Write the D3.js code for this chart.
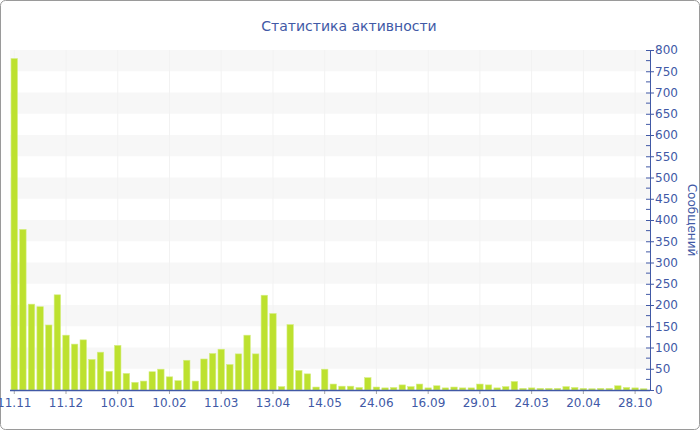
<html>
<head>
<meta charset="utf-8">
<style>
    body { margin: 0; background: #ffffff; }
    svg text { font-family: "DejaVu Sans", Verdana, sans-serif; }
</style>
</head>
<body>
<svg id="container" width="700" height="430"></svg>
<script src="https://cdn.jsdelivr.net/npm/d3@7"></script>
<script>
    // messages per period
    let values = [780, 378, 202, 196, 153, 224, 129, 108, 118, 72, 89, 44,
        105, 39, 18, 21, 43, 49, 31, 22, 70, 21, 73, 86,
        96, 60, 85, 129, 85, 223, 180, 8, 154, 46, 38, 7,
        49, 14, 9, 9, 6, 29, 7, 5, 6, 12, 8, 14,
        5, 10, 5, 7, 5, 5, 14, 12, 5, 8, 20, 4,
        5, 4, 4, 4, 8, 6, 4, 3, 4, 4, 10, 6,
        5, 3]
    let tickLabels = ["11.11", "11.12", "10.01", "10.02", "11.03", "13.04", "14.05",
        "24.06", "16.09", "29.01", "24.03", "20.04", "28.10"]
    let labelStep = 6
    let yMax = 800

    let blue = "#4159a6"
    let svg = d3.select("#container")

    let plotLeft = 10, plotRight = 650, plotTop = 50, plotBottom = 390

    let x = d3.scaleBand()
        .domain(d3.range(values.length))
        .range([plotLeft, plotRight - 2])
        .paddingInner(0.25)
        .paddingOuter(0.12)

    let y = d3.scaleLinear()
        .domain([0, yMax])
        .range([plotBottom, plotTop])

    // frame
    svg.append("rect")
        .attr("x", 0.5).attr("y", 0.5)
        .attr("width", 699).attr("height", 429)
        .attr("rx", 5)
        .attr("fill", "#ffffff")
        .attr("stroke", "#9a9a9a")

    // alternating bands
    let bands = d3.range(50, yMax, 100)
    svg.append("g").selectAll("rect")
        .data(bands)
        .enter().append("rect")
        .attr("x", plotLeft)
        .attr("width", plotRight - plotLeft)
        .attr("y", d => y(d + 50))
        .attr("height", d => y(d) - y(d + 50))
        .attr("fill", "#f7f7f7")

    // faint vertical grid
    let tickIdx = tickLabels.map((d, i) => i * labelStep)
    svg.append("g").selectAll("line")
        .data(tickIdx)
        .enter().append("line")
        .attr("x1", d => x(d) + x.bandwidth() / 2)
        .attr("x2", d => x(d) + x.bandwidth() / 2)
        .attr("y1", plotTop)
        .attr("y2", plotBottom)
        .attr("stroke", "#f2f2f2")

    // bars
    svg.append("g").selectAll("rect")
        .data(values)
        .enter().append("rect")
        .attr("x", (d, i) => x(i))
        .attr("width", x.bandwidth())
        .attr("y", d => y(d))
        .attr("height", d => plotBottom - y(d))
        .attr("fill", "#bde12f")
        .attr("stroke", "#d6ee86")
        .attr("stroke-width", 0.6)

    // x axis
    let xAxis = d3.axisBottom(x)
        .tickValues(tickIdx)
        .tickFormat((d, i) => tickLabels[i])
        .tickSize(4)
        .tickSizeOuter(0)
    let gx = svg.append("g")
        .attr("transform", "translate(0," + plotBottom + ")")
        .call(xAxis)
    gx.select(".domain").remove()
    gx.selectAll(".tick line").attr("stroke", "#a8a8a8")
    gx.selectAll(".tick text")
        .attr("fill", blue)
        .attr("font-size", 12)
        .attr("dy", "0.85em")
    svg.append("line")
        .attr("x1", plotLeft).attr("x2", plotRight)
        .attr("y1", plotBottom + 0.5).attr("y2", plotBottom + 0.5)
        .attr("stroke", blue)
        .attr("stroke-width", 1.5)

    // y axis on the right
    let yAxis = d3.axisRight(y)
        .tickValues(d3.range(0, yMax + 1, 50))
        .tickSize(4)
        .tickSizeOuter(0)
    let gy = svg.append("g")
        .attr("transform", "translate(" + plotRight + ",0)")
        .call(yAxis)
    gy.select(".domain").attr("stroke", blue)
    gy.selectAll(".tick line").attr("stroke", blue).attr("x1", -4)
    gy.selectAll(".tick text")
        .attr("fill", blue)
        .attr("font-size", 12)
        .attr("x", 5)

    // minor ticks
    svg.append("g").selectAll("line")
        .data(d3.range(25, yMax, 50))
        .enter().append("line")
        .attr("x1", plotRight - 4).attr("x2", plotRight)
        .attr("y1", d => y(d)).attr("y2", d => y(d))
        .attr("stroke", blue)

    // titles
    svg.append("text")
        .attr("x", 349).attr("y", 31)
        .attr("text-anchor", "middle")
        .attr("font-size", 14)
        .attr("fill", blue)
        .text("Статистика активности")

    svg.append("text")
        .attr("transform", "translate(688," + ((plotTop + plotBottom) / 2) + ") rotate(90)")
        .attr("text-anchor", "middle")
        .attr("font-size", 12)
        .attr("fill", blue)
        .text("Сообщений")
</script>
</body>
</html>
